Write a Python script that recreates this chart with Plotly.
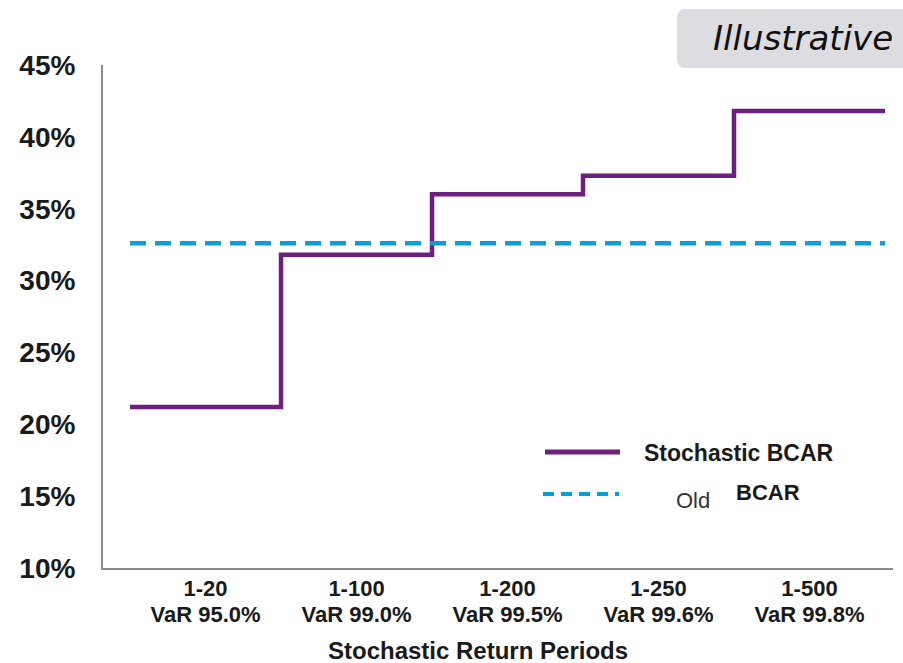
import plotly.graph_objects as go

# ---- data ----
periods = ["1-20", "1-100", "1-200", "1-250", "1-500"]
var_levels = ["VaR 95.0%", "VaR 99.0%", "VaR 99.5%", "VaR 99.6%", "VaR 99.8%"]
stochastic_bcar = [21.2, 31.8, 36.0, 37.3, 41.8]
old_bcar = 32.6
y_ticks = [10, 15, 20, 25, 30, 35, 40, 45]

W, H = 903, 663
ML, MR, MT, MB = 103, 10, 65, 95
PW, PH = W - ML - MR, H - MT - MB


def X(px):
    return (px - ML) / PW


def Y(py):
    return (H - MB - py) / PH


n = len(periods)
idx = list(range(n))
edges = [i - 0.5 for i in idx] + [n - 0.5]
step_y = stochastic_bcar + [stochastic_bcar[-1]]
xr = [-0.679, 4.553]

PURPLE = "#6E1F7E"
BLUE = "#0A9FD8"
FONT = "Liberation Sans, Arial, sans-serif"

fig = go.Figure()
fig.add_trace(go.Scatter(
    x=edges, y=step_y, mode="lines", line_shape="hv",
    line=dict(color=PURPLE, width=4.5), name="Stochastic BCAR",
    hoverinfo="skip", xaxis="x", yaxis="y",
))
fig.add_trace(go.Scatter(
    x=[edges[0], edges[-1]], y=[old_bcar, old_bcar], mode="lines",
    line=dict(color=BLUE, width=4.5, dash="16px,9px"), name="Old BCAR",
    hoverinfo="skip", xaxis="x2", yaxis="y",
))

fig.update_layout(
    width=W, height=H,
    margin=dict(l=ML, r=MR, t=MT, b=MB, pad=0, autoexpand=False),
    paper_bgcolor="white", plot_bgcolor="white",
    showlegend=False,
    xaxis=dict(
        range=xr, tickmode="array", tickvals=idx, ticktext=periods,
        showline=True, linecolor="#8C8C8C", linewidth=2,
        showgrid=False, zeroline=False, ticks="", automargin=False,
        tickfont=dict(family=FONT, size=22, color="#1a1a1a", weight="bold"),
        ticklabelstandoff=0, fixedrange=True,
    ),
    xaxis2=dict(
        range=xr, overlaying="x", anchor="y", side="bottom",
        tickmode="array", tickvals=idx, ticktext=var_levels,
        showline=False, showgrid=False, zeroline=False, ticks="", automargin=False,
        tickfont=dict(family=FONT, size=22, color="#1a1a1a", weight="bold"),
        ticklabelstandoff=31, fixedrange=True,
    ),
    yaxis=dict(
        range=[10, 45], tickmode="array", tickvals=y_ticks,
        ticktext=[f"{v}%" for v in y_ticks],
        showline=True, linecolor="#8C8C8C", linewidth=2,
        showgrid=False, zeroline=False, ticks="", automargin=False,
        tickfont=dict(family=FONT, size=28, color="#1a1a1a", weight="bold"),
        ticklabelstandoff=20, fixedrange=True,
    ),
)

# "Illustrative" tag (rounded left corners, runs off the right edge)
x0, x1, y0, y1 = X(677), X(915), Y(9), Y(68)
rx, ry = 9 / PW, 9 / PH
path = (f"M {x0+rx},{y0} L {x1},{y0} L {x1},{y1} L {x0+rx},{y1} "
        f"Q {x0},{y1} {x0},{y1+ry} L {x0},{y0-ry} Q {x0},{y0} {x0+rx},{y0} Z")
fig.add_shape(type="path", path=path, xref="paper", yref="paper",
              fillcolor="#DCDCE1", line=dict(width=0), layer="below")
fig.add_annotation(x=X(803), y=Y(38), xref="paper", yref="paper",
                   text="<i>Illustrative</i>", showarrow=False,
                   xanchor="center", yanchor="middle",
                   font=dict(family="DejaVu Sans, sans-serif", size=34, color="#111111"))

# legend
fig.add_shape(type="line", xref="paper", yref="paper",
              x0=X(545), x1=X(620), y0=Y(452), y1=Y(452),
              line=dict(color=PURPLE, width=5))
fig.add_shape(type="line", xref="paper", yref="paper",
              x0=X(543), x1=X(619), y0=Y(494), y1=Y(494),
              line=dict(color=BLUE, width=4, dash="11px,7px"))
fig.add_annotation(x=X(642), y=Y(453), xref="paper", yref="paper",
                   text="<b>Stochastic BCAR</b>", showarrow=False,
                   xanchor="left", yanchor="middle",
                   font=dict(family=FONT, size=23, color="#1a1a1a"))
fig.add_annotation(x=X(674), y=Y(500), xref="paper", yref="paper",
                   text="Old", showarrow=False, xanchor="left", yanchor="middle",
                   font=dict(family=FONT, size=22, color="#333333"))
fig.add_annotation(x=X(734), y=Y(492), xref="paper", yref="paper",
                   text="<b>BCAR</b>", showarrow=False, xanchor="left", yanchor="middle",
                   font=dict(family=FONT, size=22, color="#1a1a1a"))

# x-axis title
fig.add_annotation(x=X(478), y=Y(650), xref="paper", yref="paper",
                   text="<b>Stochastic Return Periods</b>", showarrow=False,
                   xanchor="center", yanchor="middle",
                   font=dict(family=FONT, size=24, color="#1a1a1a"))

fig.write_html(
    "out.html",
    config={"displayModeBar": False, "staticPlot": True},
    post_script="document.body.style.margin='0';document.body.style.padding='0';",
)
